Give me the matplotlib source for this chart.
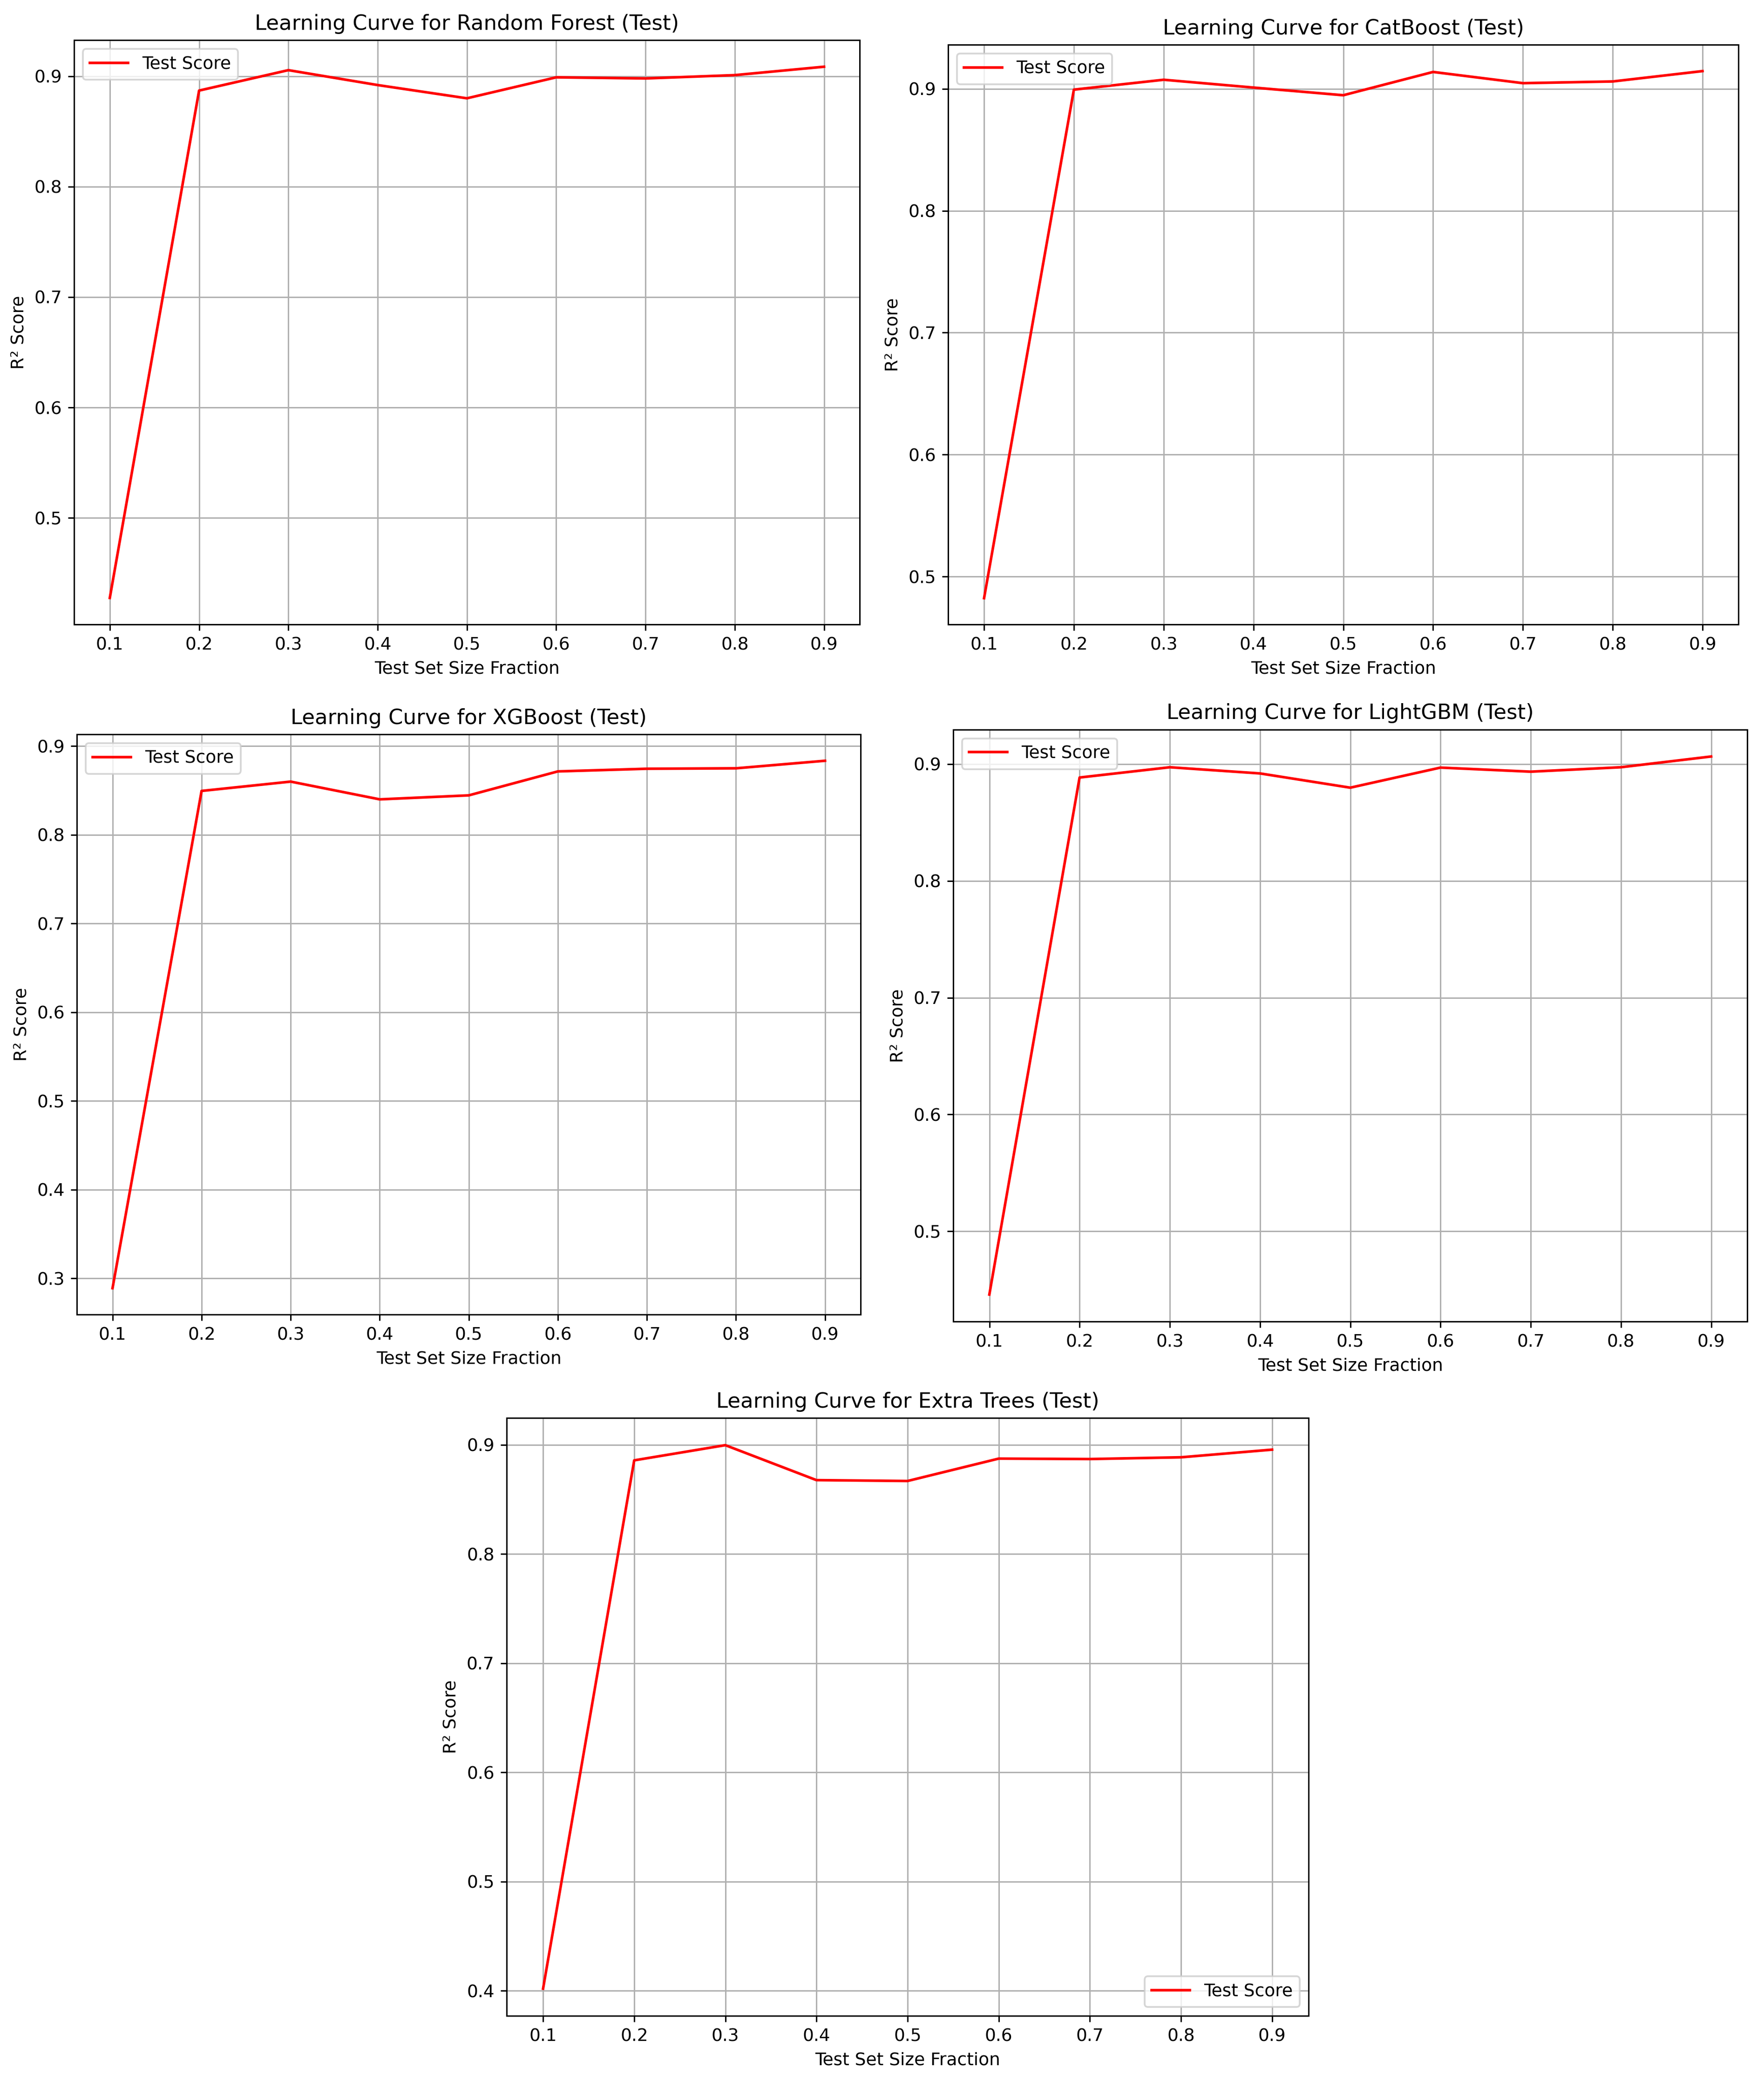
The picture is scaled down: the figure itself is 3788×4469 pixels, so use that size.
import matplotlib
matplotlib.use("Agg")
import matplotlib.pyplot as plt

# test set fractions used on the x axis
test_sizes = [0.1, 0.2, 0.3, 0.4, 0.5, 0.6, 0.7, 0.8, 0.9]

# R² test scores
rf_scores = [0.4275, 0.887, 0.9055, 0.892, 0.880, 0.899, 0.898, 0.901, 0.9086]
catboost_scores = [0.4823, 0.8993, 0.9074, 0.901, 0.8947, 0.9138, 0.9046, 0.906, 0.9145]
xgb_scores = [0.289, 0.8495, 0.860, 0.840, 0.8445, 0.8715, 0.8745, 0.875, 0.8835]
lgbm_scores = [0.4458, 0.8885, 0.8973, 0.892, 0.8798, 0.897, 0.8935, 0.8973, 0.9065]
et_scores = [0.402, 0.8857, 0.8996, 0.8676, 0.8668, 0.8873, 0.8869, 0.8885, 0.8955]

model_names = ["Random Forest", "CatBoost", "XGBoost", "LightGBM", "Extra Trees"]
all_scores = [rf_scores, catboost_scores, xgb_scores, lgbm_scores, et_scores]
legend_locs = ["upper left", "upper left", "upper left", "upper left", "lower right"]

# axes rectangles [left, bottom, width, height] in figure fractions
positions = [
    [0.0420, 0.6999, 0.4454, 0.2808],
    [0.5375, 0.6999, 0.4480, 0.2786],
    [0.0436, 0.3683, 0.4443, 0.2788],
    [0.5404, 0.3650, 0.4501, 0.2844],
    [0.2872, 0.0313, 0.4546, 0.2873],
]

DPI = 270
fig = plt.figure(figsize=(3788 / DPI, 4469 / DPI), dpi=DPI)

for name, scores, loc, pos in zip(model_names, all_scores, legend_locs, positions):
    ax = fig.add_axes(pos)
    ax.plot(test_sizes, scores, color="red", label="Test Score")
    ax.set_title(f"Learning Curve for {name} (Test)")
    ax.set_xlabel("Test Set Size Fraction")
    ax.set_ylabel("R² Score")
    ax.set_xticks(test_sizes)
    ax.legend(loc=loc, handlelength=2.2)
    ax.grid(True)

fig.savefig("out.png", dpi=DPI)
plt.close(fig)
